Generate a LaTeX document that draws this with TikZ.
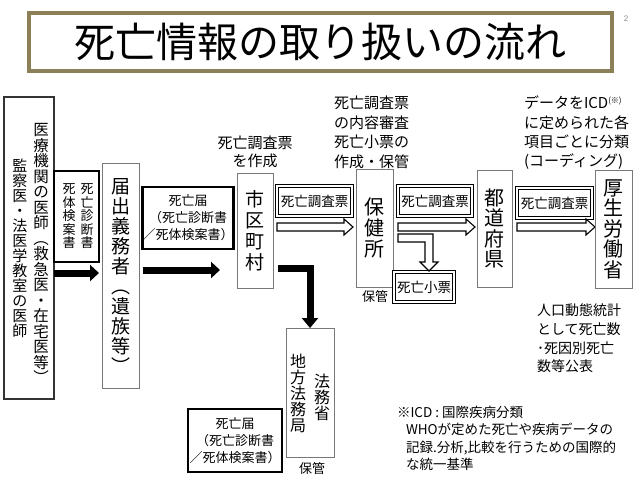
\documentclass[tikz,border=0pt]{standalone}
\usepackage{fontspec}
\setmainfont{Noto Sans CJK JP}
\newfontfamily\latinfont{Liberation Sans}
\usetikzlibrary{arrows.meta,calc}
\newcommand\fsz[2]{\fontsize{#1}{#2}\selectfont\lineskiplimit=-50pt\lineskip=0pt\relax}
\definecolor{titleframe}{RGB}{140,128,88}
\definecolor{boxgray}{RGB}{120,120,120}
\begin{document}
\begin{tikzpicture}[x=1pt,y=-1pt,
  every node/.style={inner sep=0pt, outer sep=0pt},
  gbox/.style={draw=boxgray, line width=0.8pt, fill=white, align=center},
  kbox/.style={draw=black, line width=2.6pt, fill=white, align=center},
  lboxstyle/.style={draw=black!80, line width=1.3pt, fill=white},
  dbox/.style={draw=black, double=white, double distance=1.6pt, line width=0.9pt, align=center, font=\fsz{13.5}{14}},
  vt/.style={align=center},
  lbl/.style={align=left},
  blk/.style={line width=7pt, -{Triangle[length=9pt,width=16pt]}, line join=miter},
  hollow/.style={draw=black, fill=white, line width=1.1pt, line join=miter}
]
\useasboundingbox (0,0) rectangle (640,480);
\fill[white] (0,0) rectangle (640,480);

% title
\node[draw=titleframe, line width=3.5pt, fill=white, minimum width=583, minimum height=58, font=\fsz{41}{41}] (title) at (320.5,42) {死亡情報の取り扱いの流れ};
\node[font=\latinfont\fontsize{8}{8}\selectfont, text=black!45] (pageno) at (626,19) {2};

% left box
\node[lboxstyle, minimum width=50, minimum height=302] (lbox) at (29,248) {};
\node[vt, font=\fsz{15.5}{15.5}] (lboxr) at (41,253.5) {医\\療\\機\\関\\の\\医\\師\\︵\\救\\急\\医\\・\\在\\宅\\医\\等\\︶};
\node[vt, font=\fsz{15}{15}] (lboxl) at (20,248) {監\\察\\医\\・\\法\\医\\学\\教\\室\\の\\医\\師};

% death certificate box
\node[kbox, minimum width=45, minimum height=91] (sd) at (76.5,216.5) {};
\node[vt, font=\fsz{13}{13.5}] (sdr) at (87,216.5) {死\\亡\\診\\断\\書};
\node[vt, font=\fsz{13}{13.5}] (sdl) at (69,216.5) {死\\体\\検\\案\\書};

\draw[blk] (lbox.east |- 0,273) -- (sd.east |- 0,273);

% notifier
\node[gbox, minimum width=37, minimum height=225, font=\fsz{19}{20}] (todoke) at (120.5,275.5) {届\\出\\義\\務\\者\\︵\\遺\\族\\等\\︶};

% shibou todoke 1
\node[kbox, minimum width=90, minimum height=62, font=\fsz{13}{17}] (sbtd1) at (188,218) {死亡届\\（死亡診断書\\／死体検案書）};

% municipality
\node[gbox, minimum width=36, minimum height=115, font=\fsz{19}{21}] (shi) at (255,230.5) {市\\区\\町\\村};
\node[align=center, font=\fsz{15}{18.5}] (shilbl) at (255,152) {死亡調査票\\を作成};

\coordinate (b2end) at ($(shi.west |- 0,270)+(-17,0)$);
\draw[blk] (sbtd1.west |- 0,270) -- (b2end);

% chousa 1
\node[dbox, minimum width=75, minimum height=30] (ch1) at (314.5,201) {死亡調査票};
\coordinate (h1) at (ch1.west |- 0,227);
\draw[hollow] (h1) ++(0,-4) -- ++(67,0) -- ++(0,-4) -- ++(9,8) -- ++(-9,8) -- ++(0,-4) -- ++(-67,0) -- cycle;

% health center
\node[gbox, minimum width=37, minimum height=118, font=\fsz{20}{21}] (hoken) at (374.5,228) {保\\健\\所};
\node[font=\fsz{13}{13}] (hokanA) at (375,297) {保管};
\node[lbl, anchor=north west, font=\fsz{15}{19.6}] (hokenlbl) at (334,96) {死亡調査票\\の内容審査\\死亡小票の\\作成・保管};

% legal affairs
\node[gbox, minimum width=48, minimum height=129] (homu) at (310,392.5) {};
\node[vt, font=\fsz{16}{16}] (homur) at (322,397) {法\\務\\省};
\node[vt, font=\fsz{16}{16}] (homul) at (298,393) {地\\方\\法\\務\\局};
\node[font=\fsz{13}{13}] (hokanB) at (312,469) {保管};
\draw[line width=7pt, line join=miter, -{Triangle[length=10pt,width=16pt]}] ($(shi.east |- 0,268)+(5,0)$) -- (homu.north |- 0,268) -- (homu.north);

% shibou todoke 2
\node[kbox, minimum width=94, minimum height=63, font=\fsz{13}{17}] (sbtd2) at (235,440.5) {死亡届\\（死亡診断書\\／死体検案書）};

% chousa 2 and shohyo
\node[dbox, minimum width=74, minimum height=30] (ch2) at (435,201) {死亡調査票};
\coordinate (h2) at (ch2.west |- 0,227);
\draw[hollow] (h2) ++(0,-4) -- ++(68,0) -- ++(0,-4) -- ++(9,8) -- ++(-9,8) -- ++(0,-4) -- ++(-68,0) -- cycle;
\node[dbox, minimum width=60, minimum height=30] (shohyo) at (424,287) {死亡小票};
\coordinate (hL) at (ch2.west |- 0,234);
\draw[hollow] (hL) -- ++(35,0) -- ++(0,28) -- ++(5,0) -- ++(-9,9) -- ++(-9,-9) -- ++(5,0) -- ++(0,-20) -- ++(-27,0) -- cycle;

% prefecture
\node[gbox, minimum width=35, minimum height=117, font=\fsz{20}{20.5}] (todo) at (494.5,228.5) {都\\道\\府\\県};

% chousa 3
\node[dbox, minimum width=75, minimum height=30] (ch3) at (554.5,203) {死亡調査票};
\coordinate (h3) at (ch3.west |- 0,227);
\draw[hollow] (h3) ++(0,-4) -- ++(69,0) -- ++(0,-4) -- ++(9,8) -- ++(-9,8) -- ++(0,-4) -- ++(-69,0) -- cycle;

% ministry
\node[gbox, minimum width=37, minimum height=118, font=\fsz{20}{20.5}] (kosei) at (613.5,229) {厚\\生\\労\\働\\省};
\node[lbl, anchor=north west, font=\fsz{15}{19.3}] (icdlbl) at (524,96) {データをICD\raisebox{5pt}{\fsz{8}{8}(※)}\\に定められた各\\項目ごとに分類\\(コーディング)};
\node[lbl, anchor=north west, font=\fsz{14}{18.7}] (statlbl) at (537,304) {人口動態統計\\として死亡数\\･死因別死亡\\数等公表};

% note
\node[lbl, anchor=north west, font=\fsz{13.5}{17.5}] (note) at (397,406) {※ICD : 国際疾病分類\\\hspace*{9pt}WHOが定めた死亡や疾病データの\\\hspace*{9pt}記録.分析,比較を行うための国際的\\\hspace*{9pt}な統一基準};
\end{tikzpicture}
\end{document}
